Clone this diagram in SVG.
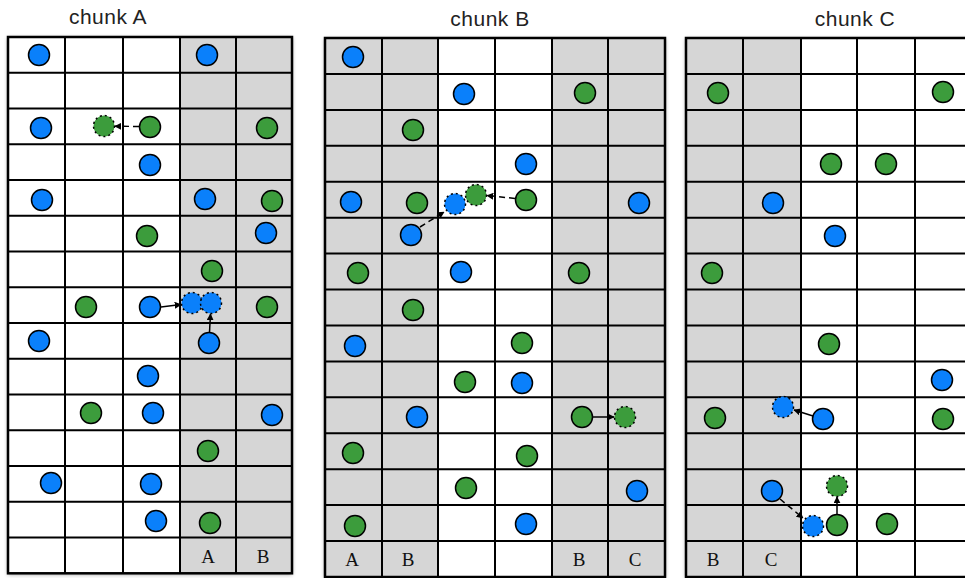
<svg xmlns="http://www.w3.org/2000/svg" width="965" height="578" viewBox="0 0 965 578">
<defs>
<filter id="sh" x="-5%" y="-5%" width="110%" height="110%">
<feDropShadow dx="0" dy="1" stdDeviation="2" flood-color="#000" flood-opacity="0.45"/>
</filter>
<marker id="ah" viewBox="0 0 10 10" refX="9" refY="5" markerWidth="7" markerHeight="7" markerUnits="userSpaceOnUse" orient="auto">
<path d="M0,0 L10,5 L0,10 z" fill="#000"/>
</marker>
<style>
.title{font-family:"Liberation Sans",Arial,sans-serif;font-size:21px;letter-spacing:0.5px;fill:#222;text-anchor:middle}
.lbl{font-family:"Liberation Serif","Times New Roman",serif;font-size:19px;fill:#111;text-anchor:middle}
.bg{fill:#fff}
.gray{fill:#d6d6d6}
.grid{fill:none;stroke:#000;stroke-width:2}
.border{fill:none;stroke:#000;stroke-width:2.5}
.b{fill:#0a80fb;stroke:#000;stroke-width:1.5}
.g{fill:#3c9c3c;stroke:#000;stroke-width:1.5}
.bd{fill:#0a80fb;stroke:#000;stroke-width:1.5;stroke-dasharray:2 3}
.gd{fill:#3c9c3c;stroke:#000;stroke-width:1.5;stroke-dasharray:2 3}
.arr{fill:none;stroke:#000;stroke-width:1.5;marker-end:url(#ah)}
.arrd{fill:none;stroke:#000;stroke-width:1.5;stroke-dasharray:6 4;marker-end:url(#ah)}
</style>
</defs>

<text class="title" x="108" y="24">chunk A</text>
<text class="title" x="490" y="26">chunk B</text>
<text class="title" x="855" y="26">chunk C</text>

<g id="chunkA">
<rect class="bg" x="8" y="37" width="284" height="536.3" filter="url(#sh)"/>
<rect class="gray" x="180" y="37" width="112" height="536.3"/>
<path class="grid" d="M65 37V573.3M123 37V573.3M180 37V573.3M236 37V573.3
M8 72.8H292M8 108.5H292M8 144.3H292M8 180H292M8 215.8H292M8 251.5H292M8 287.3H292M8 323H292M8 358.8H292M8 394.5H292M8 430.3H292M8 466H292M8 501.8H292M8 537.5H292"/>
<rect class="border" x="8" y="37" width="284" height="536.3"/>
<text class="lbl" x="208" y="563">A</text>
<text class="lbl" x="263" y="563">B</text>
</g>

<g id="chunkB">
<rect class="bg" x="325" y="38" width="340" height="539" filter="url(#sh)"/>
<rect class="gray" x="325" y="38" width="113" height="539"/>
<rect class="gray" x="552" y="38" width="113" height="539"/>
<path class="grid" d="M382 38V577M438 38V577M495 38V577M552 38V577M608 38V577
M325 73.9H665M325 109.9H665M325 145.8H665M325 181.7H665M325 217.7H665M325 253.6H665M325 289.5H665M325 325.4H665M325 361.4H665M325 397.3H665M325 433.2H665M325 469.2H665M325 505.1H665M325 541H665"/>
<rect class="border" x="325" y="38" width="340" height="539"/>
<text class="lbl" x="352" y="566">A</text>
<text class="lbl" x="408" y="566">B</text>
<text class="lbl" x="579" y="566">B</text>
<text class="lbl" x="635" y="566">C</text>
</g>

<g id="chunkC">
<rect class="bg" x="686" y="38" width="290" height="539" filter="url(#sh)"/>
<rect class="gray" x="686" y="38" width="115" height="539"/>
<path class="grid" d="M743 38V577M801 38V577M857 38V577M915 38V577
M686 73.9H976M686 109.9H976M686 145.8H976M686 181.7H976M686 217.7H976M686 253.6H976M686 289.5H976M686 325.4H976M686 361.4H976M686 397.3H976M686 433.2H976M686 469.2H976M686 505.1H976M686 541H976"/>
<rect class="border" x="686" y="38" width="290" height="539"/>
<text class="lbl" x="713" y="566">B</text>
<text class="lbl" x="771" y="566">C</text>
</g>

<g id="connectors">
<path class="arrd" d="M139 126.5L115 126.2"/>
<path class="arr" d="M161 307L181 304.5"/>
<path class="arr" d="M209.5 332L210.5 314"/>
<path class="arrd" d="M515 198.5L487 195.5"/>
<path class="arrd" d="M420 227L444 212"/>
<path class="arr" d="M593 417L614 417"/>
<path class="arr" d="M813 416L794 410"/>
<path class="arrd" d="M780 499L803 518"/>
<path class="arr" d="M837 514L837 497"/>
</g>

<g id="nodesA">
<g id="a1"><circle class="b" cx="39" cy="55" r="10.5"/></g>
<g id="a2"><circle class="b" cx="207" cy="55" r="10.5"/></g>
<g id="a3"><circle class="b" cx="41" cy="128" r="10.5"/></g>
<g id="a4"><circle class="gd" cx="104" cy="126" r="10.5"/></g>
<g id="a5"><circle class="g" cx="150" cy="127" r="10.5"/></g>
<g id="a6"><circle class="g" cx="267" cy="128" r="10.5"/></g>
<g id="a7"><circle class="b" cx="150" cy="165" r="10.5"/></g>
<g id="a8"><circle class="b" cx="42" cy="200" r="10.5"/></g>
<g id="a9"><circle class="b" cx="205" cy="199" r="10.5"/></g>
<g id="a10"><circle class="g" cx="272" cy="201" r="10.5"/></g>
<g id="a11"><circle class="g" cx="147" cy="236" r="10.5"/></g>
<g id="a12"><circle class="b" cx="266" cy="233" r="10.5"/></g>
<g id="a13"><circle class="g" cx="212" cy="271" r="10.5"/></g>
<g id="a14"><circle class="g" cx="86" cy="307" r="10.5"/></g>
<g id="a15"><circle class="b" cx="150" cy="307" r="10.5"/></g>
<g id="a16"><circle class="bd" cx="192" cy="303" r="10.5"/></g>
<g id="a17"><circle class="bd" cx="211" cy="303" r="10.5"/></g>
<g id="a18"><circle class="g" cx="267" cy="307" r="10.5"/></g>
<g id="a19"><circle class="b" cx="39" cy="341" r="10.5"/></g>
<g id="a20"><circle class="b" cx="209" cy="343" r="10.5"/></g>
<g id="a21"><circle class="b" cx="148" cy="376" r="10.5"/></g>
<g id="a22"><circle class="g" cx="91" cy="413" r="10.5"/></g>
<g id="a23"><circle class="b" cx="153" cy="413" r="10.5"/></g>
<g id="a24"><circle class="b" cx="272" cy="415" r="10.5"/></g>
<g id="a25"><circle class="g" cx="208" cy="451" r="10.5"/></g>
<g id="a26"><circle class="b" cx="51" cy="483" r="10.5"/></g>
<g id="a27"><circle class="b" cx="151" cy="484" r="10.5"/></g>
<g id="a28"><circle class="b" cx="156" cy="521" r="10.5"/></g>
<g id="a29"><circle class="g" cx="210" cy="523" r="10.5"/></g>
</g>

<g id="nodesB">
<g id="b1"><circle class="b" cx="353" cy="57" r="10.5"/></g>
<g id="b2"><circle class="b" cx="464" cy="94" r="10.5"/></g>
<g id="b3"><circle class="g" cx="585" cy="93" r="10.5"/></g>
<g id="b4"><circle class="g" cx="413" cy="130" r="10.5"/></g>
<g id="b5"><circle class="b" cx="526" cy="164" r="10.5"/></g>
<g id="b6"><circle class="b" cx="351" cy="202" r="10.5"/></g>
<g id="b7"><circle class="g" cx="417" cy="203" r="10.5"/></g>
<g id="b8"><circle class="bd" cx="455" cy="204" r="10.5"/></g>
<g id="b9"><circle class="gd" cx="476" cy="195" r="10.5"/></g>
<g id="b10"><circle class="g" cx="526" cy="200" r="10.5"/></g>
<g id="b11"><circle class="b" cx="639" cy="203" r="10.5"/></g>
<g id="b12"><circle class="b" cx="411" cy="235" r="10.5"/></g>
<g id="b13"><circle class="g" cx="358" cy="273" r="10.5"/></g>
<g id="b14"><circle class="b" cx="461" cy="272" r="10.5"/></g>
<g id="b15"><circle class="g" cx="579" cy="273" r="10.5"/></g>
<g id="b16"><circle class="g" cx="413" cy="310" r="10.5"/></g>
<g id="b17"><circle class="b" cx="355" cy="346" r="10.5"/></g>
<g id="b18"><circle class="g" cx="522" cy="343" r="10.5"/></g>
<g id="b19"><circle class="g" cx="465" cy="382" r="10.5"/></g>
<g id="b20"><circle class="b" cx="522" cy="383" r="10.5"/></g>
<g id="b21"><circle class="b" cx="417" cy="417" r="10.5"/></g>
<g id="b22"><circle class="g" cx="582" cy="417" r="10.5"/></g>
<g id="b23"><circle class="gd" cx="625" cy="417" r="10.5"/></g>
<g id="b24"><circle class="g" cx="353" cy="453" r="10.5"/></g>
<g id="b25"><circle class="g" cx="527" cy="456" r="10.5"/></g>
<g id="b26"><circle class="g" cx="466" cy="488" r="10.5"/></g>
<g id="b27"><circle class="b" cx="637" cy="491" r="10.5"/></g>
<g id="b28"><circle class="g" cx="355" cy="526" r="10.5"/></g>
<g id="b29"><circle class="b" cx="526" cy="524" r="10.5"/></g>
</g>

<g id="nodesC">
<g id="c1"><circle class="g" cx="718" cy="93" r="10.5"/></g>
<g id="c2"><circle class="g" cx="943" cy="92" r="10.5"/></g>
<g id="c3"><circle class="g" cx="831" cy="164" r="10.5"/></g>
<g id="c4"><circle class="g" cx="886" cy="164" r="10.5"/></g>
<g id="c5"><circle class="b" cx="773" cy="203" r="10.5"/></g>
<g id="c6"><circle class="b" cx="835" cy="236" r="10.5"/></g>
<g id="c7"><circle class="g" cx="712" cy="273" r="10.5"/></g>
<g id="c8"><circle class="g" cx="829" cy="344" r="10.5"/></g>
<g id="c9"><circle class="b" cx="942" cy="380" r="10.5"/></g>
<g id="c10"><circle class="g" cx="715" cy="418" r="10.5"/></g>
<g id="c11"><circle class="bd" cx="783" cy="407" r="10.5"/></g>
<g id="c12"><circle class="b" cx="823" cy="419" r="10.5"/></g>
<g id="c13"><circle class="g" cx="943" cy="419" r="10.5"/></g>
<g id="c14"><circle class="b" cx="772" cy="491" r="10.5"/></g>
<g id="c15"><circle class="gd" cx="837" cy="486" r="10.5"/></g>
<g id="c16"><circle class="bd" cx="813" cy="526" r="10.5"/></g>
<g id="c17"><circle class="g" cx="837" cy="525" r="10.5"/></g>
<g id="c18"><circle class="g" cx="887" cy="524" r="10.5"/></g>
</g>
</svg>
